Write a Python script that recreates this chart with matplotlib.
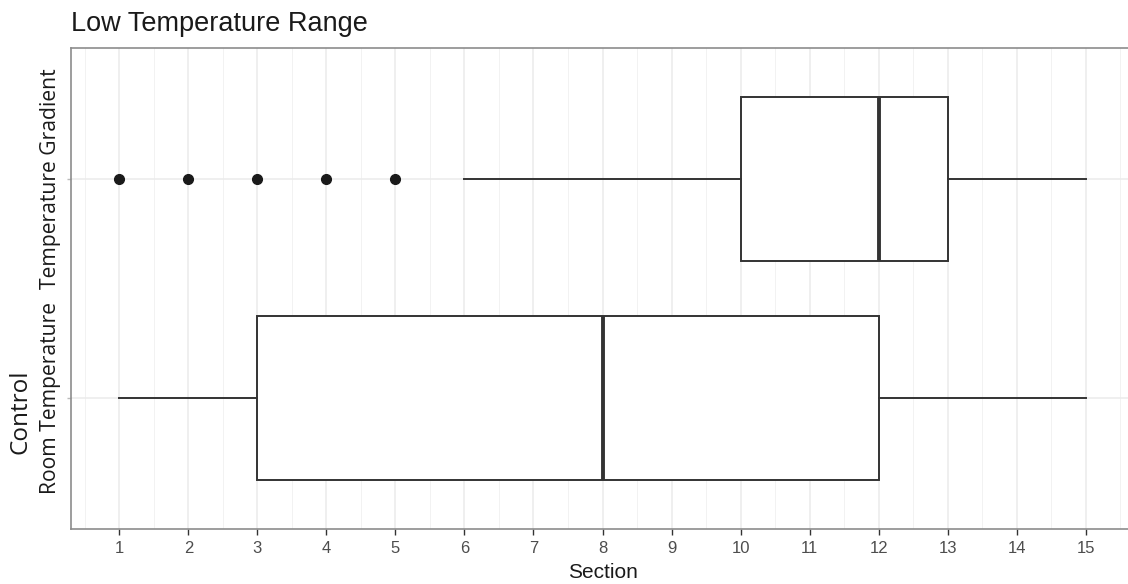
import matplotlib
matplotlib.use('Agg')
import matplotlib.pyplot as plt

plt.rcParams['font.family'] = ['Liberation Sans', 'DejaVu Sans']

# group order from bottom to top
groups = ['Room Temperature', 'Temperature Gradient']
whisker_low = [1, 6]
q1 = [3, 10]
median = [8, 12]
q3 = [12, 13]
whisker_high = [15, 15]
outliers = [[], [1, 2, 3, 4, 5]]
sections = list(range(1, 16))

W, H = 1128, 584
fig = plt.figure(figsize=(W / 100, H / 100), dpi=100)
# panel runs slightly past the right edge, as in the reference
ax = fig.add_axes([71 / W, 54.6 / H, 1063 / W, 481.8 / H])

stats = []
for i, g in enumerate(groups):
    stats.append({'label': g, 'whislo': whisker_low[i], 'q1': q1[i], 'med': median[i],
                  'q3': q3[i], 'whishi': whisker_high[i], 'fliers': outliers[i]})

edge = '#333333'
ax.bxp(stats, positions=[1, 2], vert=False, widths=0.75, showcaps=False,
       patch_artist=True,
       boxprops=dict(facecolor='white', edgecolor=edge, linewidth=1.4),
       whiskerprops=dict(color=edge, linewidth=1.4),
       medianprops=dict(color=edge, linewidth=2.8),
       flierprops=dict(marker='o', markerfacecolor='#1a1a1a', markeredgecolor='#1a1a1a',
                       markersize=7))

ax.set_xlim(0.3, 15.7)
ax.set_ylim(0.4, 2.6)
ax.set_xticks(sections)
ax.set_xticks([s + 0.5 for s in range(0, 16)], minor=True)
ax.set_yticks([1, 2])
ax.set_yticklabels(groups, rotation=90, va='center', fontsize=15.2, color='#1a1a1a',
                   family=['Open Sans', 'DejaVu Sans'])
ax.tick_params(axis='x', which='major', labelsize=12, labelcolor='#4d4d4d',
               color=edge, length=4, width=1, pad=4)
ax.tick_params(axis='x', which='minor', length=0)
ax.tick_params(axis='y', color='#bbbbbb', length=3, width=1, pad=4)

ax.grid(True, which='major', color='#ebebeb', linewidth=1.1, zorder=0)
ax.grid(True, which='minor', axis='x', color='#f2f2f2', linewidth=0.7, zorder=0)
ax.set_axisbelow(True)
for sp in ax.spines.values():
    sp.set_color('#8c8c8c')
    sp.set_linewidth(1.2)

ax.set_xlabel('Section', fontsize=15, color='#1a1a1a', labelpad=5.5)

fig.text(71 / W, 1 - 31 / H, 'Low Temperature Range', fontsize=19.5, color='#1a1a1a',
         ha='left', va='baseline')
fig.text(20 / W, 1 - 412 / H, 'Control', fontsize=17.5, rotation=90, ha='center',
         va='center', family=['Open Sans', 'DejaVu Sans'], color='#1a1a1a')

fig.savefig('out.png', dpi=100)
